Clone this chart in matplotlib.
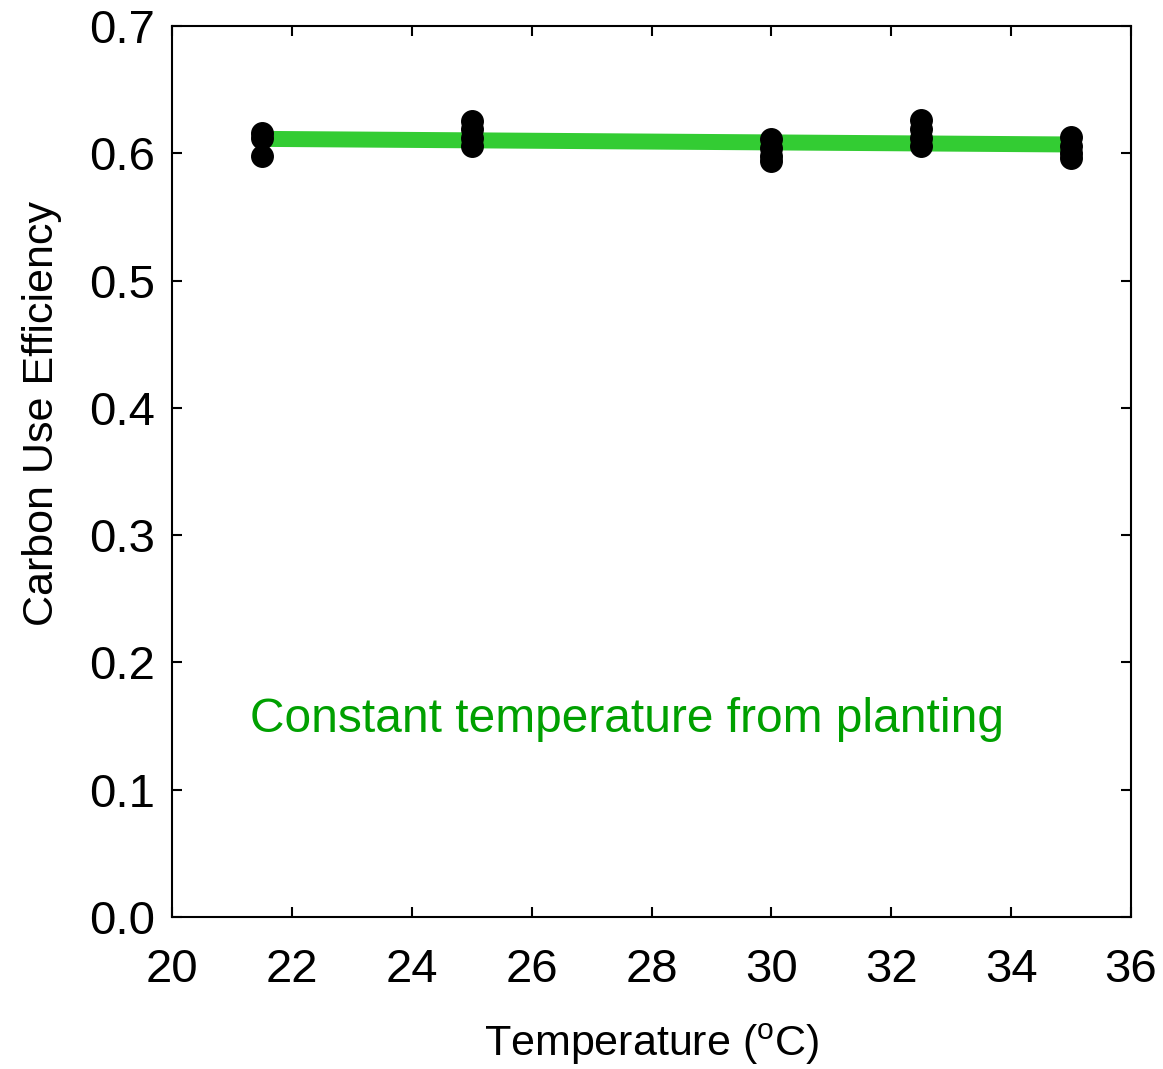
import matplotlib.pyplot as plt
import numpy as np

plt.rcParams["font.family"] = ["Liberation Sans", "DejaVu Sans"]

# CUE measured at each growth temperature (replicate plants)
temp_groups = [21.5, 25.0, 30.0, 32.5, 35.0]
cue_reps = [
    [0.616, 0.612, 0.598],
    [0.625, 0.619, 0.612, 0.606],
    [0.611, 0.604, 0.598, 0.594],
    [0.626, 0.619, 0.612, 0.606],
    [0.613, 0.606, 0.600, 0.596],
]

# linear fit endpoints
fit_x = [21.5, 35.0]
fit_y = [0.6113, 0.6069]

fig = plt.figure(figsize=(11.63, 10.69), dpi=100)
ax = fig.add_axes([0.1479, 0.1422, 0.9725 - 0.1479, 0.9757 - 0.1422])

ax.plot(fit_x, fit_y, color="#33cc33", linewidth=11.5, solid_capstyle="butt", zorder=2)
for t, reps in zip(temp_groups, cue_reps):
    ax.plot(np.full(len(reps), t), reps, "o", color="black", markersize=15.5, zorder=3)

ax.text(21.3, 0.155, "Constant temperature from planting", color="#00a000",
        fontsize=34.5, va="center", ha="left")

ax.set_xlim(20, 36)
ax.set_ylim(0, 0.7)
ax.set_xticks(np.arange(20, 37, 2))
ax.set_yticks(np.arange(0, 0.71, 0.1))
ax.set_yticklabels([f"{v:.1f}" for v in np.arange(0, 0.71, 0.1)])
ax.tick_params(direction="in", length=7, width=1.5, labelsize=34,
               top=True, right=True)
ax.tick_params(axis="x", pad=22)
ax.tick_params(axis="y", pad=12)
for s in ax.spines.values():
    s.set_linewidth(1.5)

ax.set_xlabel("Temperature ($\\mathregular{^{o}}$C)", fontsize=31, labelpad=22)
ax.set_ylabel("Carbon Use Efficiency", fontsize=31, labelpad=20)
ax.yaxis.label.set_y(0.565)

fig.savefig("out.png", dpi=100)
